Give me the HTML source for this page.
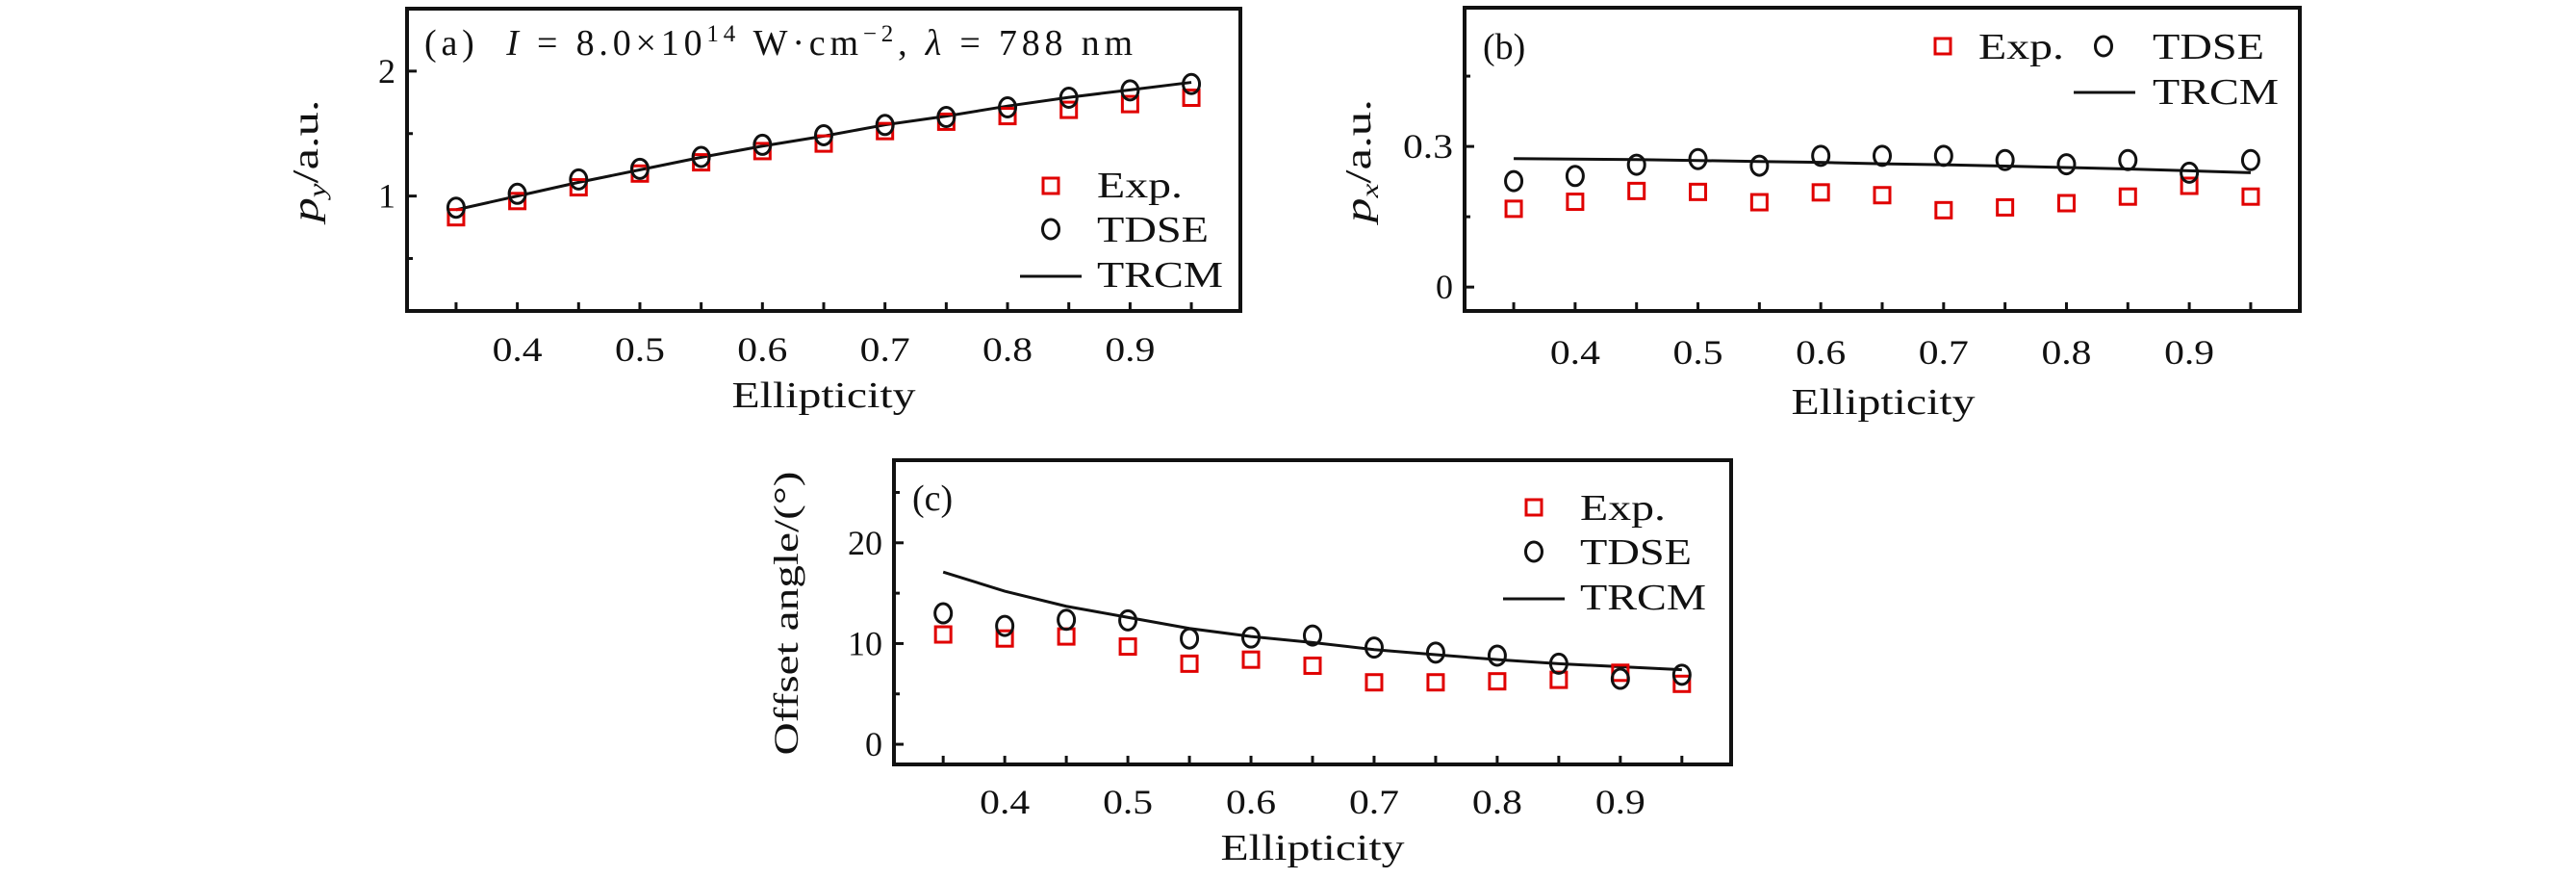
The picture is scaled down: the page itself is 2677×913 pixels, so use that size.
<!DOCTYPE html>
<html><head><meta charset="utf-8">
<style>
html,body{margin:0;padding:0;background:#fff;}
svg{display:block;}
text{font-family:"Liberation Serif","DejaVu Serif",serif;fill:#111;}
</style></head>
<body>
<svg id="fig" width="2677" height="913" viewBox="0 0 2677 913" xmlns="http://www.w3.org/2000/svg"></svg>
<script>
const xCats = [0.35,0.40,0.45,0.50,0.55,0.60,0.65,0.70,0.75,0.80,0.85,0.90,0.95];
const xTickLabels = ["0.4","0.5","0.6","0.7","0.8","0.9"];
const xTickValues = [0.4,0.5,0.6,0.7,0.8,0.9];

const aExp  = [0.83,0.96,1.07,1.18,1.27,1.36,1.42,1.52,1.595,1.64,1.69,1.736,1.787];
const aTdse = [0.907,1.018,1.133,1.218,1.313,1.41,1.487,1.569,1.633,1.71,1.787,1.846,1.897];
const aTrcm = [0.89,1.0,1.11,1.21,1.31,1.40,1.48,1.57,1.64,1.72,1.79,1.85,1.91];
const aYTicks = [2,1];
const aYLabels = ["2","1"];
const aYMinor = [1.5,0.5];

const bExp  = [0.167,0.182,0.205,0.203,0.181,0.202,0.196,0.164,0.170,0.179,0.193,0.216,0.193];
const bTdse = [0.226,0.237,0.261,0.273,0.259,0.280,0.280,0.280,0.271,0.262,0.271,0.244,0.271];
const bTrcm = [0.274,0.273,0.272,0.270,0.268,0.266,0.263,0.261,0.258,0.255,0.252,0.248,0.244];
const bYTicks = [0.3,0];
const bYLabels = ["0.3","0"];
const bYMinor = [0.45,0.15];

const cExp  = [10.9,10.5,10.7,9.7,8.0,8.4,7.8,6.15,6.15,6.25,6.4,7.1,6.0];
const cTdse = [13.0,11.75,12.36,12.3,10.5,10.6,10.8,9.6,9.1,8.8,8.0,6.5,6.9];
const cTrcm = [17.1,15.2,13.7,12.6,11.5,10.7,10.1,9.4,8.9,8.4,8.0,7.7,7.4];
const cYTicks = [20,10,0];
const cYLabels = ["20","10","0"];
const cYMinor = [25,15,5];

const NS = "http://www.w3.org/2000/svg";
const svg = document.getElementById('fig');
function mk(tag, attrs, parent){
  const e = document.createElementNS(NS, tag);
  for (const k in attrs) e.setAttribute(k, attrs[k]);
  (parent||svg).appendChild(e);
  return e;
}
function labW(s){ return s.length===1 ? 18 : (s.length===2 ? 36 : 52); }

function panel(cfg){
  const g = mk('g', {});
  
  
  const L=cfg.L,R=cfg.R,T=cfg.T,B=cfg.B;
  const sx = v => L + (v - 0.31)/(0.99-0.31)*(R-L);
  const sy = v => B - (v - cfg.ymin)/(cfg.ymax-cfg.ymin)*(B-T);
  xCats.forEach(v=>{
    const t = mk('line',{x1:sx(v),x2:sx(v),y1:B,y2:B-9,stroke:'#111','stroke-width':3},g);
    
    
  });
  xTickValues.forEach((v,i)=>{
    const t = mk('text',{x:sx(v),y:cfg.xlabY,'font-size':36,'text-anchor':'middle',textLength:labW(xTickLabels[i]),lengthAdjust:'spacingAndGlyphs'},g);
    t.textContent = xTickLabels[i];
    
    
  });
  cfg.yt.forEach((v,i)=>{
    const t = mk('line',{x1:L,x2:L+10,y1:sy(v),y2:sy(v),stroke:'#111','stroke-width':3},g);
    
    
    const tl = mk('text',{x:L-12,y:sy(v)+12,'font-size':36,'text-anchor':'end',textLength:labW(cfg.yl[i]),lengthAdjust:'spacingAndGlyphs'},g);
    tl.textContent = cfg.yl[i];
    
    
  });
  cfg.ym.forEach(v=>{
    const t = mk('line',{x1:L,x2:L+6,y1:sy(v),y2:sy(v),stroke:'#111','stroke-width':3},g);
    
    
  });
  const pts = xCats.map((v,i)=>sx(v)+','+sy(cfg.trcm[i])).join(' ');
  const pl = mk('polyline',{points:pts,fill:'none',stroke:'#111','stroke-width':3},g);
  
  
  xCats.forEach((v,i)=>{
    const s = mk('rect',{x:sx(v)-8,y:sy(cfg.exp[i])-8,width:16,height:16,fill:'none',stroke:'#e00000','stroke-width':3},g);
    
    
  });
  xCats.forEach((v,i)=>{
    const c = mk('ellipse',{cx:sx(v),cy:sy(cfg.tdse[i]),rx:8.5,ry:10,fill:'none',stroke:'#111','stroke-width':3},g);
    
    
  });
  const f = mk('rect',{x:L,y:T,width:R-L,height:B-T,fill:'none',stroke:'#111','stroke-width':4},g);
  
  
  const xt = mk('text',{x:cfg.xtX,y:cfg.xtY,'font-size':38,'text-anchor':'middle',textLength:191,lengthAdjust:'spacingAndGlyphs'},g);
  xt.textContent='Ellipticity';
  
  
  return {g,sx,sy};
}

const legW = {"Exp.":89,"TDSE":116,"TRCM":131};
function legendItem(g,type,x,y,label,tx,ty){
  let m;
  if(type==='sq') m = mk('rect',{x:x-8,y:y-8,width:16,height:16,fill:'none',stroke:'#e00000','stroke-width':3},g);
  else if(type==='ci') m = mk('ellipse',{cx:x,cy:y,rx:8.5,ry:10,fill:'none',stroke:'#111','stroke-width':3},g);
  else m = mk('line',{x1:x-32,x2:x+32,y1:y,y2:y,stroke:'#111','stroke-width':3},g);
  
  
  const t = mk('text',{x:tx,y:ty,'font-size':38,textLength:legW[label],lengthAdjust:'spacingAndGlyphs'},g);
  t.textContent = label;
  
  
}

// Panel (a)
const pa = panel({name:'panel-a',L:423,R:1289,T:9,B:323,ymin:0.08,ymax:2.5,exp:aExp,tdse:aTdse,trcm:aTrcm,yt:aYTicks,yl:aYLabels,ym:aYMinor,xlabY:375,xtX:856,xtY:423});
{
  const t = mk('text',{x:441,y:57,'font-size':38,textLength:736,lengthAdjust:'spacing'},pa.g);
  t.innerHTML = '(a)&#160; <tspan font-style="italic">I</tspan> = 8.0×10<tspan font-size="25" dy="-14">14</tspan><tspan dy="14"> W·cm</tspan><tspan font-size="25" dy="-14">−2</tspan><tspan dy="14">, </tspan><tspan font-style="italic">λ</tspan> = 788 nm';
  
  
  legendItem(pa.g,'sq',1092,193,'Exp.',1140,205);
  legendItem(pa.g,'ci',1092,238,'TDSE',1140,251);
  legendItem(pa.g,'ln',1092,287,'TRCM',1140,298);
  const yl = mk('text',{x:0,y:0,'font-size':38,'text-anchor':'middle',textLength:127,lengthAdjust:'spacingAndGlyphs',transform:'translate(330,167) rotate(-90)'},pa.g);
  yl.innerHTML = '<tspan font-style="italic">p</tspan><tspan font-style="italic" font-size="25" dy="8">y</tspan><tspan dy="-8">/a.u.</tspan>';
  
  
}

// Panel (b)
const pb = panel({name:'panel-b',L:1522,R:2390,T:8,B:323,ymin:-0.051,ymax:0.596,exp:bExp,tdse:bTdse,trcm:bTrcm,yt:bYTicks,yl:bYLabels,ym:bYMinor,xlabY:378,xtX:1957,xtY:430});
{
  const t = mk('text',{x:1541,y:61,'font-size':38},pb.g);
  t.textContent='(b)';
  
  
  legendItem(pb.g,'sq',2019,48,'Exp.',2056,61);
  const c = mk('ellipse',{cx:2186,cy:48,rx:8.5,ry:10,fill:'none',stroke:'#111','stroke-width':3},pb.g);
  
  
  const t2 = mk('text',{x:2237,y:61,'font-size':38,textLength:116,lengthAdjust:'spacingAndGlyphs'},pb.g);
  t2.textContent='TDSE';
  
  
  legendItem(pb.g,'ln',2187,96,'TRCM',2237,108);
  const yl = mk('text',{x:0,y:0,'font-size':38,'text-anchor':'middle',textLength:128,lengthAdjust:'spacingAndGlyphs',transform:'translate(1424,167) rotate(-90)'},pb.g);
  yl.innerHTML = '<tspan font-style="italic">p</tspan><tspan font-style="italic" font-size="25" dy="8">x</tspan><tspan dy="-8">/a.u.</tspan>';
  
  
}

// Panel (c)
const pc = panel({name:'panel-c',L:929,R:1799,T:478,B:794,ymin:-2.0,ymax:28.2,exp:cExp,tdse:cTdse,trcm:cTrcm,yt:cYTicks,yl:cYLabels,ym:cYMinor,xlabY:845,xtX:1364,xtY:893});
{
  const t = mk('text',{x:948,y:530,'font-size':38},pc.g);
  t.textContent='(c)';
  
  
  legendItem(pc.g,'sq',1594,527,'Exp.',1642,540);
  legendItem(pc.g,'ci',1594,573,'TDSE',1642,586);
  legendItem(pc.g,'ln',1594,622,'TRCM',1642,633);
  const yl = mk('text',{x:0,y:0,'font-size':36,'text-anchor':'middle',textLength:295,lengthAdjust:'spacingAndGlyphs',transform:'translate(829,637) rotate(-90)'},pc.g);
  yl.textContent='Offset angle/(°)';
  
  
}
</script>
</body></html>
